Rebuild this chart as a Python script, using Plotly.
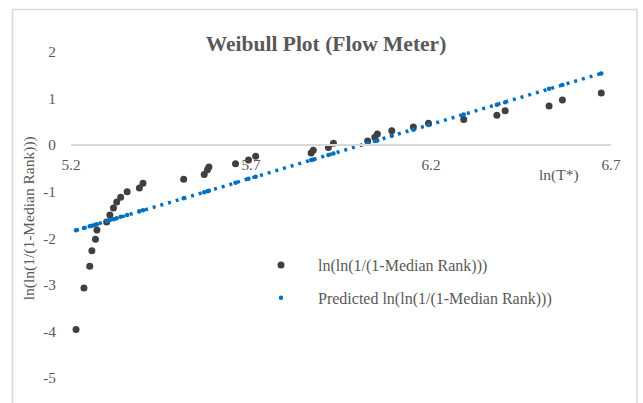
import plotly.graph_objects as go

ln_t = [5.214, 5.236, 5.252, 5.258, 5.268, 5.272, 5.299, 5.308, 5.318, 5.327,
        5.338, 5.356, 5.390, 5.400, 5.513, 5.570, 5.579, 5.583, 5.657, 5.693,
        5.713, 5.867, 5.873, 5.915, 5.929, 6.024, 6.044, 6.051, 6.091, 6.151,
        6.193, 6.291, 6.383, 6.406, 6.528, 6.565, 6.673]
ln_ln_rank = [-3.96, -3.07, -2.60, -2.27, -2.02, -1.82, -1.65, -1.50, -1.35, -1.22,
              -1.12, -1.00, -0.92, -0.82, -0.73, -0.63, -0.53, -0.47, -0.40, -0.32,
              -0.24, -0.17, -0.11, -0.05, 0.04, 0.09, 0.17, 0.24, 0.31, 0.39,
              0.47, 0.55, 0.64, 0.74, 0.84, 0.97, 1.12]
predicted = [-1.83, -1.78, -1.74, -1.73, -1.71, -1.70, -1.63, -1.61, -1.59, -1.57,
             -1.54, -1.50, -1.42, -1.40, -1.14, -1.01, -0.99, -0.98, -0.81, -0.72,
             -0.68, -0.32, -0.31, -0.21, -0.18, 0.04, 0.09, 0.10, 0.20, 0.33,
             0.43, 0.66, 0.87, 0.92, 1.21, 1.29, 1.54]
x_ticks = [5.2, 5.7, 6.2, 6.7]
y_ticks = [-5, -4, -3, -2, -1, 0, 1, 2]

FONT = "Liberation Serif"
GREY = "#595959"
BLUE = "#0070C0"
DARK = "#404040"

fig = go.Figure()
fig.add_trace(go.Scatter(
    x=ln_t, y=predicted, mode="lines", showlegend=False, hoverinfo="skip",
    line=dict(color=BLUE, width=3.5, dash="3px,5px")))
fig.add_trace(go.Scatter(
    x=ln_t, y=ln_ln_rank, mode="markers", name="ln(ln(1/(1-Median Rank)))",
    legendgroup="a", marker=dict(color=DARK, size=7)))
fig.add_trace(go.Scatter(
    x=ln_t, y=predicted, mode="markers", name="Predicted ln(ln(1/(1-Median Rank)))",
    legendgroup="b", marker=dict(color=BLUE, size=4.5)))

fig.update_layout(
    width=643, height=403,
    margin=dict(l=71, r=32, t=52, b=25),
    paper_bgcolor="white", plot_bgcolor="white",
    font=dict(family=FONT, color=GREY, size=15),
    title=dict(text="<b>Weibull Plot (Flow Meter)</b>", x=0.507, xanchor="center",
               y=0.891, yanchor="middle", font=dict(family=FONT, size=21.5, color=GREY)),
    xaxis=dict(range=[5.2, 6.7], tickvals=x_ticks, ticktext=[str(v) for v in x_ticks],
               showgrid=False, zeroline=False, showline=True, linecolor="#d9d9d9",
               linewidth=1.5, anchor="free", position=5 / 7, ticks="",
               ticklabelstandoff=6, tickfont=dict(family=FONT, size=15.3, color=GREY)),
    yaxis=dict(range=[-5, 2], tickvals=y_ticks, ticktext=[str(v) for v in y_ticks],
               showgrid=False, zeroline=False,
               showline=False, ticks="", ticklabelstandoff=14,
               tickfont=dict(family=FONT, size=15.3, color=GREY)),
    legend=dict(x=(244 - 71) / 540, y=(378 - 248) / 326, xanchor="left", yanchor="top",
                bgcolor="rgba(0,0,0,0)", font=dict(family=FONT, size=16, color=GREY),
                itemwidth=64, traceorder="grouped", tracegroupgap=9),
    annotations=[
        dict(text="ln(ln(1/(1-Median Rank)))", xref="paper", yref="paper",
             x=(29 - 71) / 540, y=0.49, textangle=-90, showarrow=False,
             xanchor="center", yanchor="middle", font=dict(family=FONT, size=15.5, color=GREY)),
        dict(text="ln(T*)", xref="paper", yref="paper", x=(559 - 71) / 540,
             y=(378 - 175) / 326, showarrow=False, xanchor="center", yanchor="middle",
             font=dict(family=FONT, size=15.5, color=GREY)),
    ],
    shapes=[dict(type="rect", xref="paper", yref="paper",
                 x0=(12.5 - 71) / 540, x1=(637 - 71) / 540,
                 y0=-0.3, y1=(378 - 9.5) / 326,
                 line=dict(color="#d9d9d9", width=1.5), layer="below")],
)
fig.write_html("out.html", config={"displayModeBar": False},
               post_script="document.body.style.margin='0';document.body.style.padding='0';")
